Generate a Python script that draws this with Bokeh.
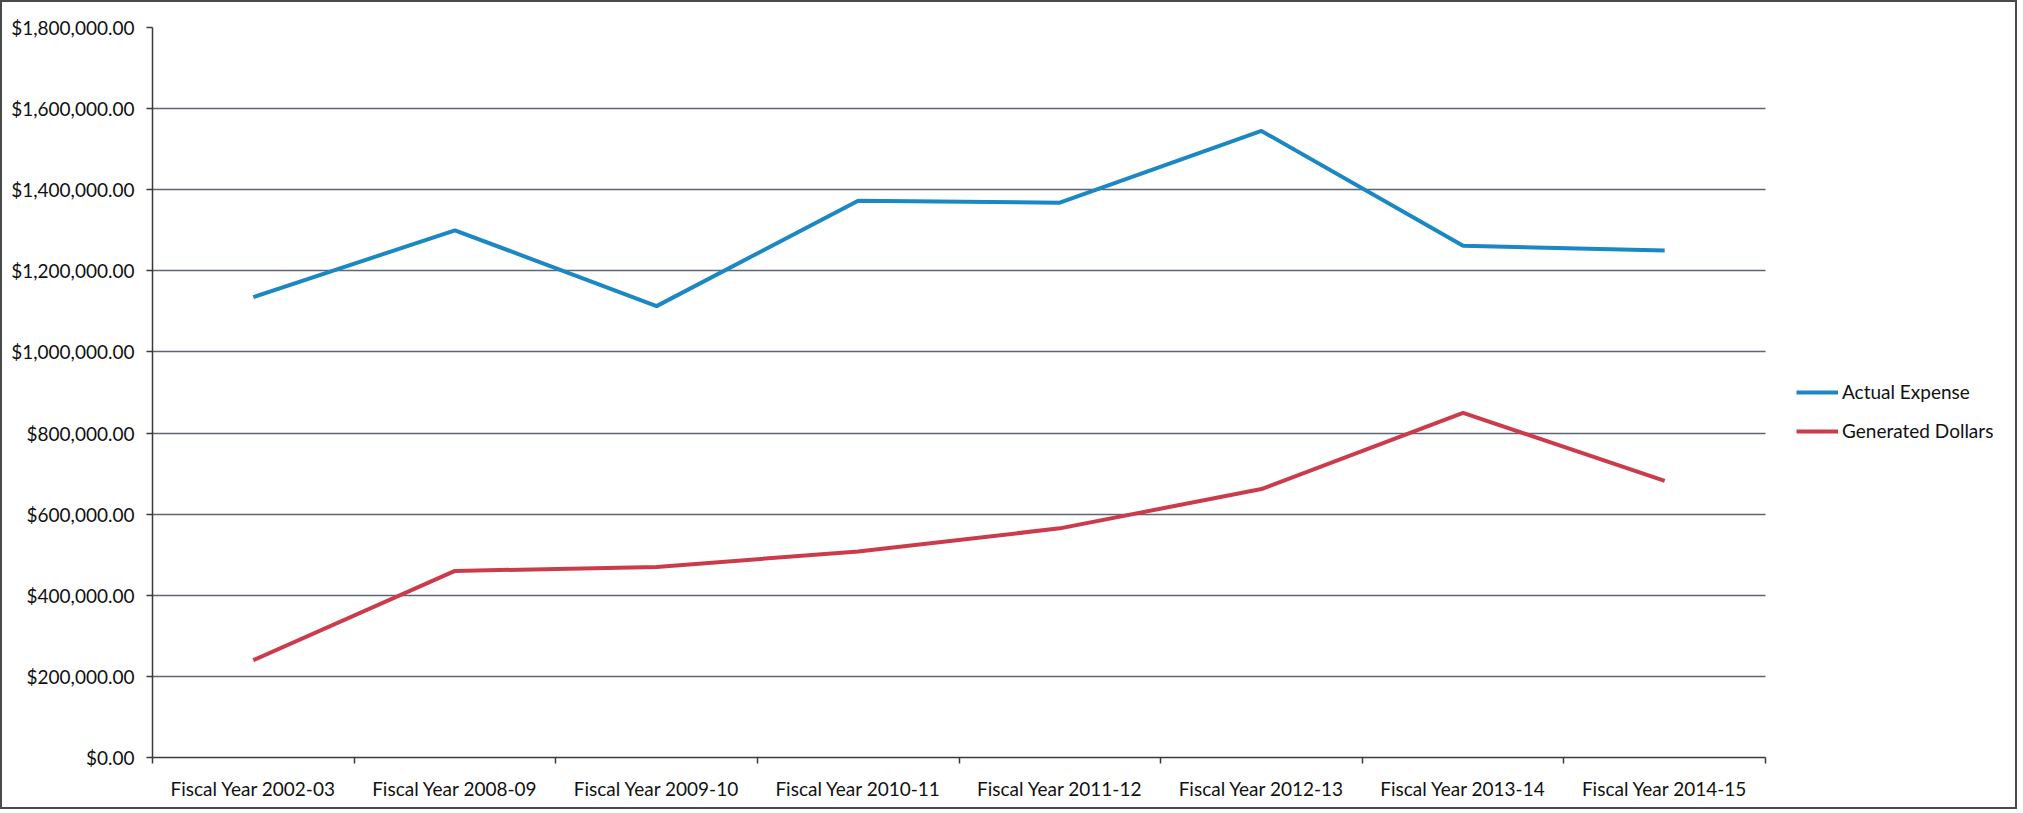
from bokeh.plotting import figure
from bokeh.models import (Range1d, FixedTicker, NumeralTickFormatter, Legend, LegendItem)
from bokeh.embed import file_html
from bokeh.resources import INLINE

categories = ["Fiscal Year 2002-03", "Fiscal Year 2008-09", "Fiscal Year 2009-10",
              "Fiscal Year 2010-11", "Fiscal Year 2011-12", "Fiscal Year 2012-13",
              "Fiscal Year 2013-14", "Fiscal Year 2014-15"]
actual_expense = [1135000, 1300000, 1113000, 1373000, 1368000, 1545000, 1262000, 1250000]
generated_dollars = [240000, 460000, 470000, 508000, 565000, 662000, 850000, 682000]
y_ticks = [0, 200000, 400000, 600000, 800000, 1000000, 1200000, 1400000, 1600000, 1800000]

FONT = "Lato"
FSIZE = "19px"
N = len(categories)
xs = [i + 0.5 for i in range(N)]

PLOT_W = 1613      # width of the drawn plot area (pixels)
FRAME_W = 1861     # frame extends to the right so the legend can sit beside the plot
x_end = N * FRAME_W / PLOT_W

p = figure(frame_width=FRAME_W, frame_height=730, output_backend="svg", toolbar_location=None,
           x_range=Range1d(0, x_end), y_range=Range1d(0, 1800000),
           min_border_left=150, min_border_right=2, min_border_top=25, min_border_bottom=50)
p.styles = {"border": "2px solid #4a4a4a"}
p.outline_line_color = None
p.background_fill_color = "white"
p.border_fill_color = "white"

# x axis: labels at centers, ticks at boundaries
p.xaxis.bounds = (0, N)
p.xaxis.ticker = FixedTicker(ticks=xs, minor_ticks=list(range(N + 1)))
p.xaxis.major_label_overrides = {x: c for x, c in zip(xs, categories)}
p.xaxis.major_tick_line_color = None
p.xaxis.major_tick_out = 0
p.xaxis.major_tick_in = 0
p.xaxis.minor_tick_out = 6
p.xaxis.minor_tick_in = 0
p.xaxis.minor_tick_line_color = "#3a3a3a"
p.xaxis.minor_tick_line_width = 1.5
p.xaxis.major_label_standoff = 13
p.xgrid.grid_line_color = None

p.yaxis.ticker = FixedTicker(ticks=y_ticks)
p.yaxis.formatter = NumeralTickFormatter(format="$0,0.00")
p.yaxis.minor_tick_line_color = None
p.yaxis.major_tick_out = 6
p.yaxis.major_tick_in = 0
p.yaxis.major_label_standoff = 12
p.yaxis.major_tick_line_color = "#3a3a3a"
p.yaxis.major_tick_line_width = 1.5

for ax in (p.xaxis, p.yaxis):
    ax.axis_line_color = "#3a3a3a"
    ax.axis_line_width = 1.5
    ax.major_label_text_font = FONT
    ax.major_label_text_font_size = FSIZE
    ax.major_label_text_color = "#111111"

p.ygrid.grid_line_color = "#5f6475"
p.ygrid.grid_line_width = 1.5
p.ygrid.cross_bounds = (0, N)

r1 = p.line(xs, actual_expense, line_color="#1b87c3", line_width=4)
r2 = p.line(xs, generated_dollars, line_color="#cc3b4b", line_width=4)

legend = Legend(items=[LegendItem(label="Actual Expense", renderers=[r1]),
                       LegendItem(label="Generated Dollars", renderers=[r2])],
                location=(PLOT_W + 31, 315), orientation="vertical",
                glyph_width=42, glyph_height=20, label_height=20, spacing=16,
                label_standoff=4, padding=0, margin=0,
                border_line_color=None, background_fill_alpha=0,
                label_text_font=FONT, label_text_font_size=FSIZE, label_text_color="#111111")
p.add_layout(legend, "center")

open("out.html", "w").write(file_html(p, INLINE))
